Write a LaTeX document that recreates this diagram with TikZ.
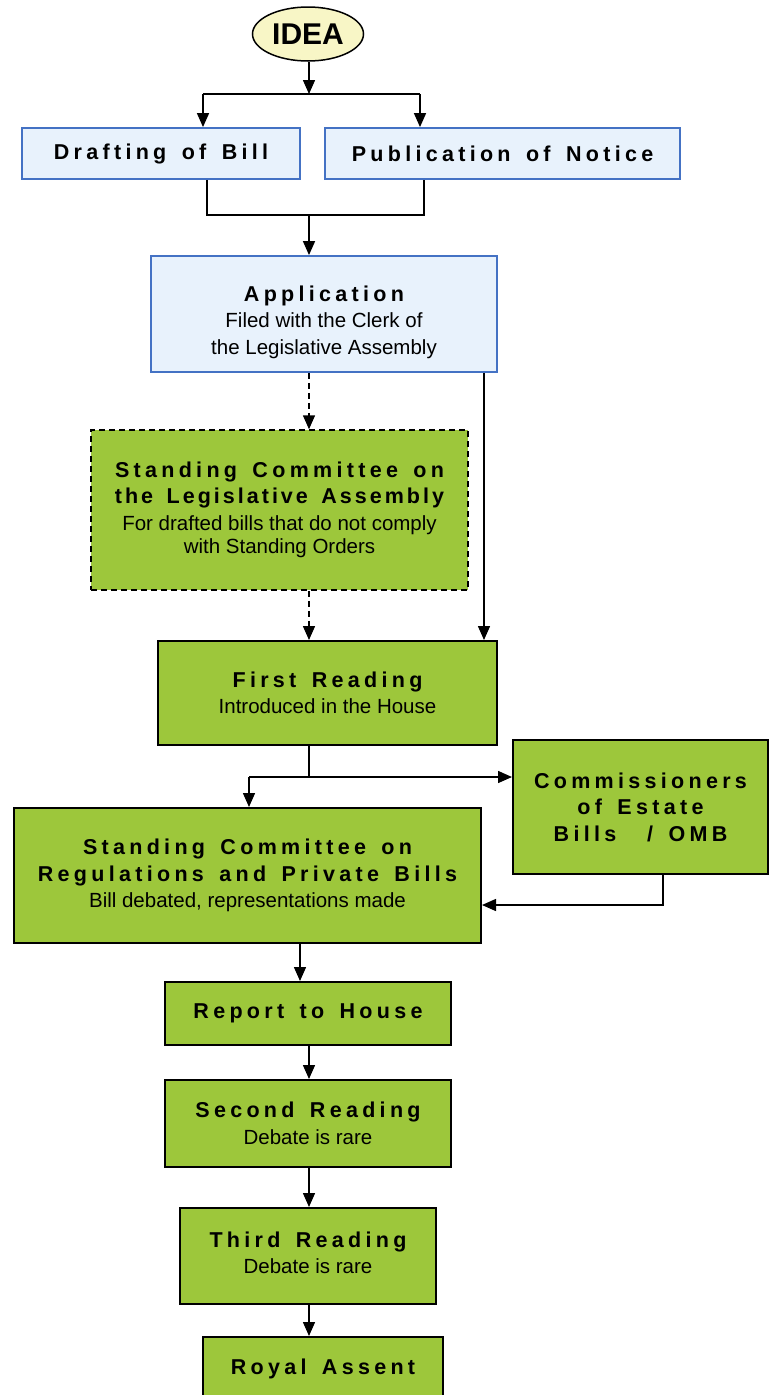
\documentclass[tikz,border=0pt]{standalone}
\usepackage{fontspec}
\setmainfont{Liberation Sans}
\newfontfamily\tfam[LetterSpace=20,WordSpace=1.5]{Liberation Sans Bold}
\newfontfamily\tfamtight[LetterSpace=14,WordSpace=1.5]{Liberation Sans Bold}
\usetikzlibrary{arrows.meta,shapes.geometric}
\definecolor{gfill}{HTML}{9DC73B}
\definecolor{bfill}{HTML}{E8F2FC}
\definecolor{bline}{HTML}{4472C4}
\definecolor{yfill}{HTML}{F8F6C6}
\newcommand\ttl{\tfam\fontsize{21.5}{26.5}\selectfont}
\newcommand\ttlt{\tfamtight\fontsize{21.5}{26.5}\selectfont}
\newcommand\subt{\fontsize{20.5}{26.5}\selectfont}
\begin{document}
\begin{tikzpicture}[x=1pt,y=-1pt,
  box/.style={rectangle, inner sep=0pt, align=center, font=\fontsize{20}{26.5}\selectfont},
  bluebox/.style={box, draw=bline, fill=bfill, line width=1.8pt},
  greenbox/.style={box, draw=black, fill=gfill, line width=2pt},
  dashbox/.style={box, draw=black, fill=gfill, line width=1.5pt, dash pattern=on 6pt off 4pt},
  txt/.style={inner sep=0pt, align=center, font=\fontsize{20}{26.5}\selectfont},
  conn/.style={line width=1.5pt, draw=black},
  arr/.style={conn, -{Triangle[length=14pt,width=12pt]}},
  darr/.style={arr, dash pattern=on 6pt off 4pt}]
\useasboundingbox (0,0) rectangle (773,1395);
\begin{scope}
\clip (0,0) rectangle (773,1395);
% nodes
\node[ellipse, draw=black, fill=yfill, line width=1.5pt, minimum width=111pt, minimum height=54pt, inner sep=0pt,
      font=\bfseries\fontsize{30}{30}\selectfont] (idea) at (308,34) {IDEA};
\node[bluebox, minimum width=278pt, minimum height=51pt] (draft) at (161,153.5) {\ttl Drafting of Bill};
\node[bluebox, minimum width=355pt, minimum height=51pt] (pub) at (502.5,153.5) {\ttl Publication of Notice};
\node[bluebox, minimum width=346pt, minimum height=116pt] (app) at (324,314) {};
\node[txt] (apptx) at (324,322)
  {{\ttl Application}\\{\subt Filed with the Clerk of}\\{\subt the Legislative Assembly}};
\node[dashbox, minimum width=377pt, minimum height=160pt] (scla) at (279.5,510)
  {{\ttl Standing Committee on}\\{\ttlt the Legislative Assembly}\\{\subt For drafted bills that do not comply}\\[-3pt]{\subt with Standing Orders}};
\node[greenbox, minimum width=339pt, minimum height=104pt] (first) at (327.5,693)
  {{\ttl First Reading}\\{\subt Introduced in the House}};
\node[greenbox, minimum width=255pt, minimum height=134pt] (comm) at (640.5,807)
  {{\ttl Commissioners}\\{\ttl of Estate}\\{\ttl Bills\ \ / OMB}};
\node[greenbox, minimum width=467pt, minimum height=135pt] (scrp) at (247.5,875.5)
  {{\ttl Standing Committee on}\\{\ttl Regulations and Private Bills}\\{\subt Bill debated, representations made}};
\node[greenbox, minimum width=286pt, minimum height=63pt] (report) at (308,1013.5) {\ttl Report to House};
\node[greenbox, minimum width=286pt, minimum height=87pt] (second) at (308,1123.5)
  {{\ttl Second Reading}\\{\subt Debate is rare}};
\node[greenbox, minimum width=256pt, minimum height=96pt] (third) at (308,1256) {};
\node[txt] (thirdtx) at (308,1253)
  {{\ttl Third Reading}\\{\subt Debate is rare}};
\node[greenbox, minimum width=240pt, minimum height=63pt] (royal) at (323,1368.5) {\ttl Royal Assent};
% junction coordinates
\coordinate (c0) at (309,94);
\coordinate (cl) at (203,94);
\coordinate (cr) at (420,94);
\coordinate (ml) at (207,215);
\coordinate (mr) at (424,215);
\coordinate (mm) at (309,215);
\coordinate (ar) at (484,372);
\coordinate (fj) at (309,777);
\coordinate (fl) at (249,777);
\coordinate (cb) at (663,905);
\coordinate (sr) at (300,960);
% connectors
\draw[arr] (idea.south -| c0) -- (c0);
\draw[conn] (cl) -- (cr);
\draw[arr] (cl) -- (cl |- draft.north);
\draw[arr] (cr) -- (cr |- pub.north);
\draw[conn] (draft.south -| ml) -- (ml) -- (mr) -- (pub.south -| mr);
\draw[arr] (mm) -- (app.north -| mm);
\draw[darr] (app.south -| mm) -- (scla.north -| mm);
\draw[arr] (app.south -| ar) -- (first.north -| ar);
\draw[darr] (scla.south -| mm) -- (first.north -| mm);
\draw[conn] (first.south -| fj) -- (fj);
\draw[arr] (fl) -- (comm.west |- fl);
\draw[arr] (fl) -- (scrp.north -| fl);
\draw[arr] (comm.south -| cb) -- (cb) -- (scrp.east |- cb);
\draw[arr] (scrp.south -| sr) -- (report.north -| sr);
\draw[arr] (report.south -| mm) -- (second.north -| mm);
\draw[arr] (second.south -| mm) -- (third.north -| mm);
\draw[arr] (third.south -| mm) -- (royal.north -| mm);
\end{scope}
\end{tikzpicture}
\end{document}
